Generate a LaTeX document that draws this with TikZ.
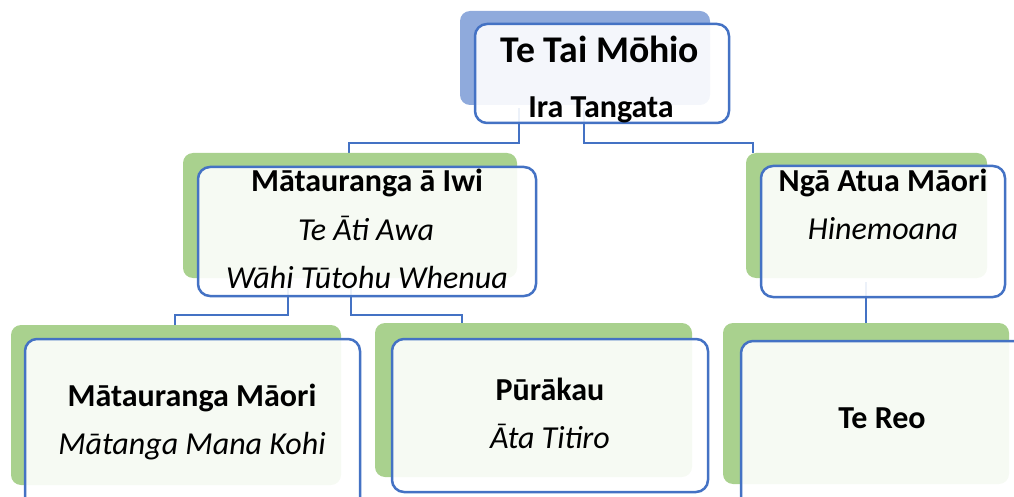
\documentclass[tikz,border=0pt]{standalone}
\usepackage{fontspec}
\setmainfont{Carlito}
\definecolor{edgeblue}{HTML}{4472C4}
\definecolor{leafgreen}{HTML}{A9D18E}
\definecolor{rootblue}{HTML}{8FAADC}
\tikzset{
  backbox/.style={rounded corners=10pt, inner sep=0pt, outer sep=0pt},
  frontbox/.style={draw=edgeblue, line width=2.5pt, rounded corners=12pt, fill=white, fill opacity=0.9, draw opacity=1, inner sep=0pt, outer sep=0pt},
  link/.style={draw=edgeblue, line width=2.8pt},
  headtxt/.style={font=\bfseries\fontsize{32}{38}\selectfont, anchor=base, inner sep=0pt},
  subtxt/.style={font=\itshape\fontsize{32}{38}\selectfont, anchor=base, inner sep=0pt},
  roottxt/.style={font=\bfseries\fontsize{37.7}{44}\selectfont, anchor=base, inner sep=0pt},
}
\newcommand{\rbox}[6]{%
  \path[#6] (#2,#3) rectangle (#4,#5);
  \coordinate (#1-nw) at (#2,#3);
  \coordinate (#1-se) at (#4,#5);
}
\begin{document}
\begin{tikzpicture}[x=1pt,y=-1pt]
\useasboundingbox (0,0) rectangle (1014,497);
\clip (0,0) rectangle (1014,497);
% coordinates for box edges
\coordinate (rootbot1) at (519,108);
\coordinate (rootbot2) at (584,108);
\coordinate (mlbot1) at (288,281);
\coordinate (mlbot2) at (351,281);
\coordinate (mrbot) at (866,282);
\coordinate (mltop) at (349,153);
\coordinate (mrtop) at (753,153);
\coordinate (bltop) at (175,325);
\coordinate (bmtop) at (462,323);
\coordinate (brtop) at (866,323);
% connectors (beneath boxes)
\draw[link] (rootbot1) |- (349,143) -- (mltop);
\draw[link] (rootbot2) |- (753,143) -- (mrtop);
\draw[link] (mlbot1) |- (175,315) -- (bltop);
\draw[link] (mlbot2) |- (462,315) -- (bmtop);
\draw[link] (mrbot) -- (brtop);
% root
\rbox{rootb}{460}{11}{710}{105}{backbox, fill=rootblue}
\rbox{rootf}{475}{24}{729}{123}{frontbox}
% middle left
\rbox{mlb}{183}{153}{517}{278}{backbox, fill=leafgreen}
\rbox{mlf}{198}{167}{536}{296}{frontbox}
% middle right
\rbox{mrb}{746}{153}{987}{278}{backbox, fill=leafgreen}
\rbox{mrf}{761}{166}{1005}{297}{frontbox}
% bottom left
\rbox{blb}{11}{325}{341}{485}{backbox, fill=leafgreen}
\rbox{blf}{25}{339}{360}{510}{frontbox}
% bottom middle
\rbox{bmb}{375}{323}{692}{477}{backbox, fill=leafgreen}
\rbox{bmf}{392}{339}{708}{492}{frontbox}
% bottom right
\rbox{brb}{723}{323}{1009}{484}{backbox, fill=leafgreen}
\rbox{brf}{741}{341}{1040}{510}{frontbox}
% texts
\node[roottxt] (t1) at (600,63) {Te Tai Mōhio};
\node[headtxt] (t2) at (601,118) {Ira Tangata};
\node[headtxt] (t3) at (367,192) {Mātauranga ā Iwi};
\node[subtxt] (t4) at (366,240) {Te Āti Awa};
\node[subtxt] (t5) at (367,288) {Wāhi Tūtohu Whenua};
\node[headtxt] (t6) at (883,192) {Ngā Atua Māori};
\node[subtxt] (t7) at (883,239) {Hinemoana};
\node[headtxt] (t8) at (192,406) {Mātauranga Māori};
\node[subtxt] (t9) at (192,454) {Mātanga Mana Kohi};
\node[headtxt] (t10) at (550,400) {Pūrākau};
\node[subtxt] (t11) at (550,448) {Āta Titiro};
\node[headtxt] (t12) at (882,428) {Te Reo};
\end{tikzpicture}
\end{document}
